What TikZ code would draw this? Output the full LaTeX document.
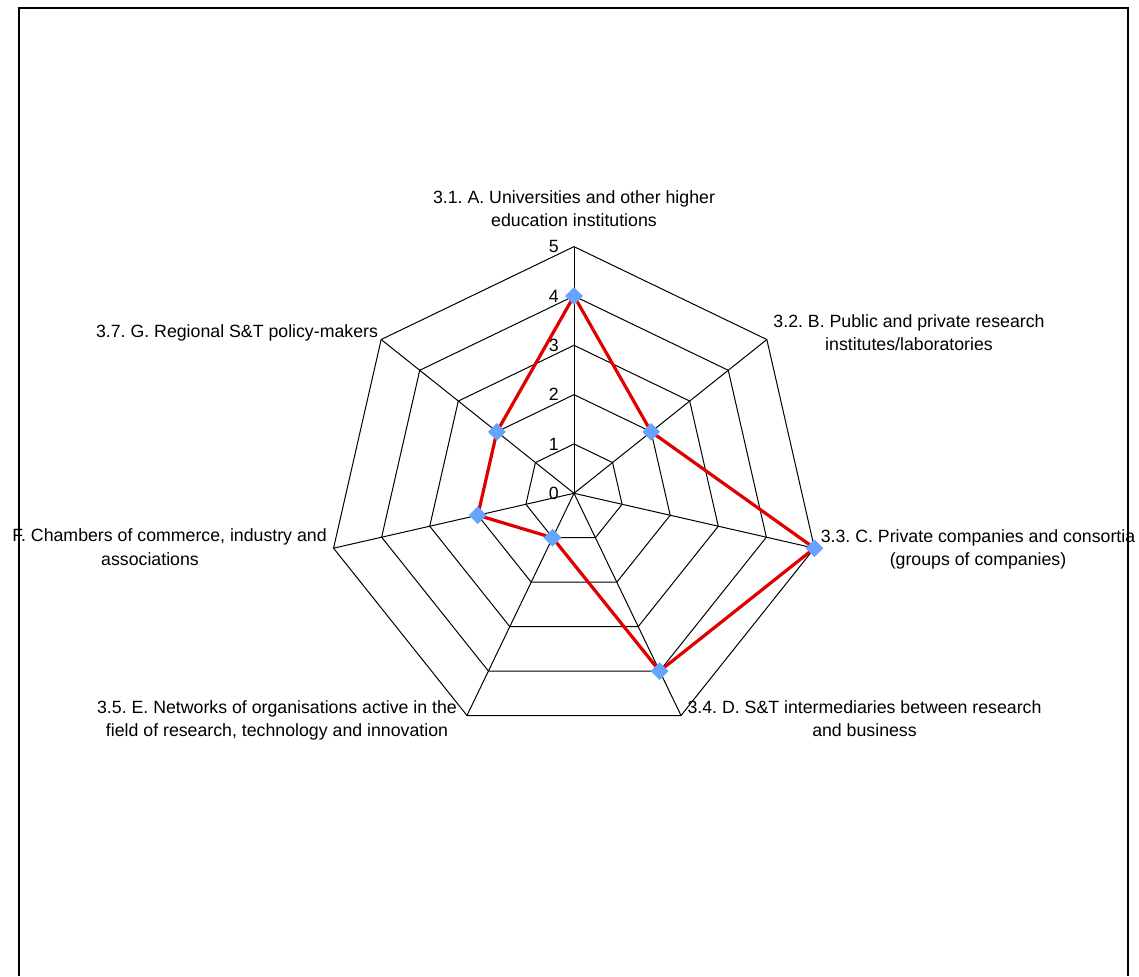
\documentclass[tikz,border=0pt]{standalone}
\usepackage{fontspec}
\setmainfont{Liberation Sans}
\usetikzlibrary{shapes.geometric}
\definecolor{serred}{RGB}{225,0,0}
\definecolor{markblue}{RGB}{102,163,255}
\frenchspacing
\begin{document}
\begin{tikzpicture}[x=0.75pt,y=0.75pt,
  lab/.style={font=\fontsize{13.3pt}{17.4pt}\selectfont\frenchspacing, inner sep=0pt, align=center},
  gridline/.style={black, line width=0.75pt, line join=miter},
  series/.style={serred, line width=2.4pt, line join=miter},
  diamark/.style={shape=diamond, fill=markblue, draw=none, inner sep=0pt,
                  minimum width=13.5pt, minimum height=13.5pt},
  frameline/.style={black, line width=1.5pt}]
\useasboundingbox (0,0) rectangle (1139,976);
% frame (bottom edge lies outside the picture)
\coordinate (fbl) at (18.5,0);
\coordinate (ftl) at (18.5,968.3);
\coordinate (ftr) at (1128,968.3);
\coordinate (fbr) at (1128,0);
\draw[frameline] (fbl) -- (ftl) -- (ftr) -- (fbr);
\begin{scope}[shift={(574,482.7)}]
  \coordinate (O) at (0,0);
  % spokes
  \foreach \k in {0,...,6}{
    \coordinate (s\k) at ({90-\k*360/7}:246.65);
    \draw[gridline] (O) -- (s\k);
  }
  % level heptagons
  \foreach \l in {1,...,5}{
    \draw[gridline] ({90}:\l*49.33)
      \foreach \k in {1,...,6}{ -- ({90-\k*360/7}:\l*49.33) } -- cycle;
  }
  % scale labels
  \foreach \l in {0,...,5}{
    \node[lab, anchor=east] (lv\l) at (-15,\l*49.33) {\l};
  }
  % data points
  \coordinate (p1) at ({90-0*360/7}:4*49.33);
  \coordinate (p2) at ({90-1*360/7}:2*49.33);
  \coordinate (p3) at ({90-2*360/7}:5*49.33);
  \coordinate (p4) at ({90-3*360/7}:4*49.33);
  \coordinate (p5) at ({90-4*360/7}:1*49.33);
  \coordinate (p6) at ({90-5*360/7}:2*49.33);
  \coordinate (p7) at ({90-6*360/7}:2*49.33);
  \draw[series] (p1) -- (p2) -- (p3) -- (p4) -- (p5) -- (p6) -- (p7) -- cycle;
  \foreach \i in {1,...,7}{
    \node[diamark] (m\i) at (p\i) {};
  }
\end{scope}
% axis labels
\node[lab, anchor=north] (labA) at (574,786) {3.1. A. Universities and other higher\\education institutions};
\node[lab, anchor=north] (labB) at (909,662) {3.2. B. Public and private research\\institutes/laboratories};
\node[lab, anchor=north] (labC) at (978,447) {3.3. C. Private companies and consortia\\(groups of companies)};
\node[lab, anchor=north] (labD) at (864.5,276) {3.4. D. S\&T intermediaries between research\\and business};
\node[lab, anchor=north] (labE) at (277,276) {3.5. E. Networks of organisations active in the\\field of research, technology and innovation};
\node[lab, anchor=base west] (labF) at (12,434.3) {F. Chambers of commerce, industry and};
\node[lab, anchor=base] (labFb) at (150,411) {associations};
\node[lab, anchor=base] (labG) at (237,638.7) {3.7. G. Regional S\&T policy-makers};
\end{tikzpicture}
\end{document}
